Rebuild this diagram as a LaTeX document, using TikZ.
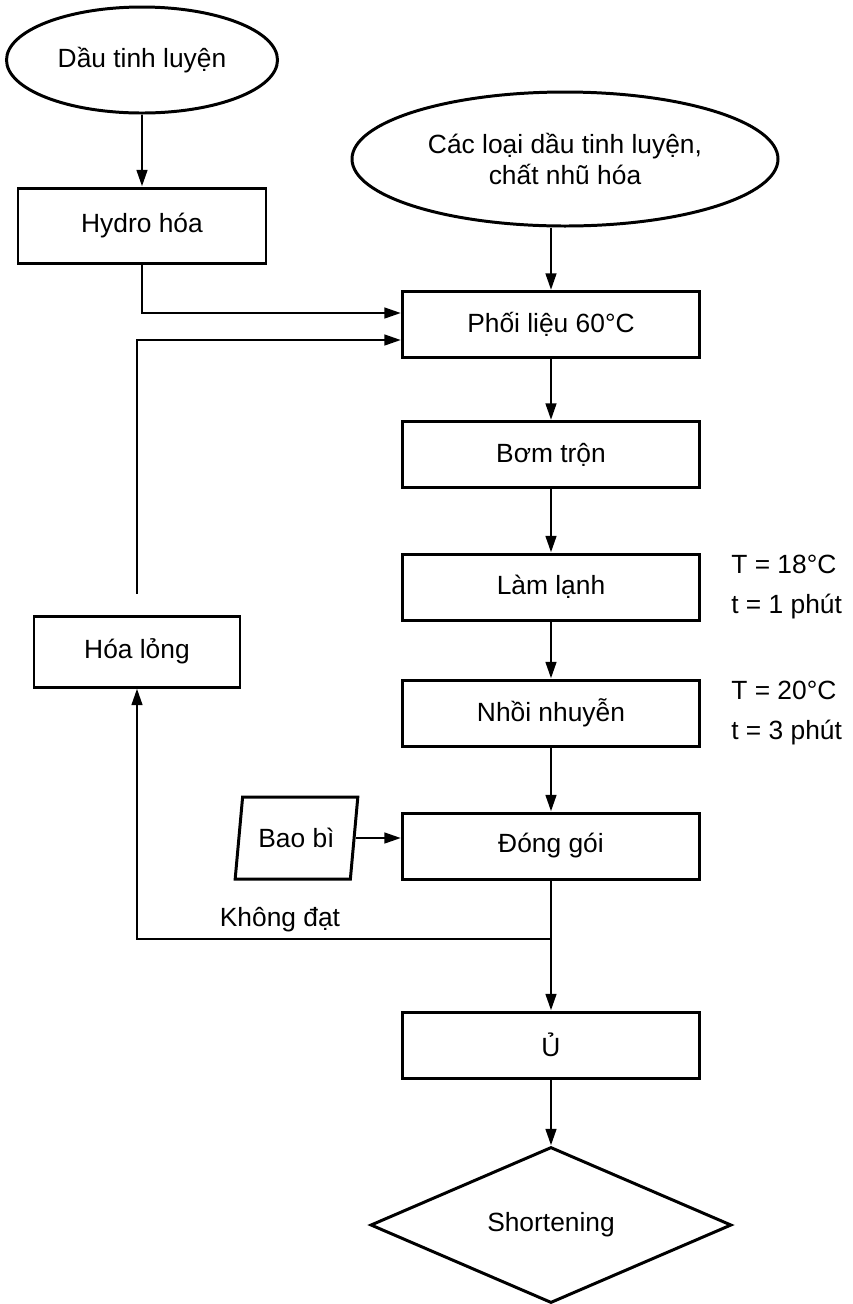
\documentclass[tikz,border=0pt]{standalone}
\usepackage{fontspec}
\setmainfont{Liberation Sans}
\usetikzlibrary{positioning,shapes.geometric,arrows.meta}

\begin{document}
\begin{tikzpicture}[
        every node/.style={font=\fontsize{15}{18}\selectfont},
        stepbox/.style={rectangle, draw, line width=1.7pt,
            minimum width=5.94cm, minimum height=1.32cm,
            align=center, inner sep=0pt},
        source/.style={ellipse, draw, line width=1.7pt,
            align=center, inner sep=0pt},
        input/.style={trapezium, trapezium left angle=75,
            trapezium right angle=105, trapezium stretches=true,
            draw, line width=1.7pt, inner sep=0pt,
            minimum width=2.46cm, minimum height=1.64cm},
        product/.style={diamond, draw, line width=1.7pt, inner sep=0pt,
            minimum width=7.22cm, minimum height=3.12cm},
        arrow/.style={-{Triangle[length=9.5pt,width=6pt]}, line width=1.6pt},
        cond/.style={align=left, inner sep=0pt}
      ]
      \useasboundingbox (0,0) rectangle (17.06,-26.08);
      \node[source, minimum width=5.42cm, minimum height=2.12cm]
      (dau) at (2.84, -1.20) {Dầu tinh luyện};
      \node[stepbox, minimum width=4.96cm, minimum height=1.50cm]
      (hydro) at (2.84, -4.51) {Hydro hóa};
      \node[source, minimum width=8.52cm, minimum height=2.68cm]
      (cac) at (11.30, -3.18) {Các loại dầu tinh luyện,\\chất nhũ hóa};
      \node[stepbox] (phoi)  at (11.02,  -6.49) {Phối liệu 60°C};
      \node[stepbox] (bom)   at (11.02,  -9.09) {Bơm trộn};
      \node[stepbox] (lam)   at (11.02, -11.74) {Làm lạnh};
      \node[stepbox] (nhoi)  at (11.02, -14.26) {Nhồi nhuyễn};
      \node[stepbox] (dong)  at (11.02, -16.92) {Đóng gói};
      \node[stepbox] (u)     at (11.02, -20.90) {Ủ};
      \node[product] (short) at (11.02, -24.50) {Shortening};
      \node[stepbox, minimum width=4.12cm, minimum height=1.42cm]
      (hoalong) at (2.74, -13.03) {Hóa lỏng};
      \node[input] (bao) at (5.93, -16.76) {Bao bì};
      \node[cond, right=0.6cm of lam]
      (lamcond) {T = 18°C\\[5pt]t = 1 phút};
      \node[cond, right=0.6cm of nhoi]
      (nhoicond) {T = 20°C\\[5pt]t = 3 phút};
      \coordinate (kd) at (11.02, -18.78);
      \node (kdlabel) at (5.60, -18.40) {Không đạt};
      \draw[arrow] (dau.south)  -- (hydro.north);
      \draw[arrow] (cac.south -| phoi.north) -- (phoi.north);
      \draw[arrow] (hydro.south) |- ([yshift=0.23cm]phoi.west);
      \draw[arrow] ([yshift=0.42cm]hoalong.north) |- ([yshift=-0.31cm]phoi.west);
      \draw[arrow] (phoi)  -- (bom);
      \draw[arrow] (bom)   -- (lam);
      \draw[arrow] (lam)   -- (nhoi);
      \draw[arrow] (nhoi)  -- (dong);
      \draw[arrow] (bao.east) -- (bao.east -| dong.west);
      \draw[arrow] (dong)  -- (u);
      \draw[arrow] (kd) -| (hoalong.south);
      \draw[arrow] (u)     -- (short);
    \end{tikzpicture}
\end{document}
